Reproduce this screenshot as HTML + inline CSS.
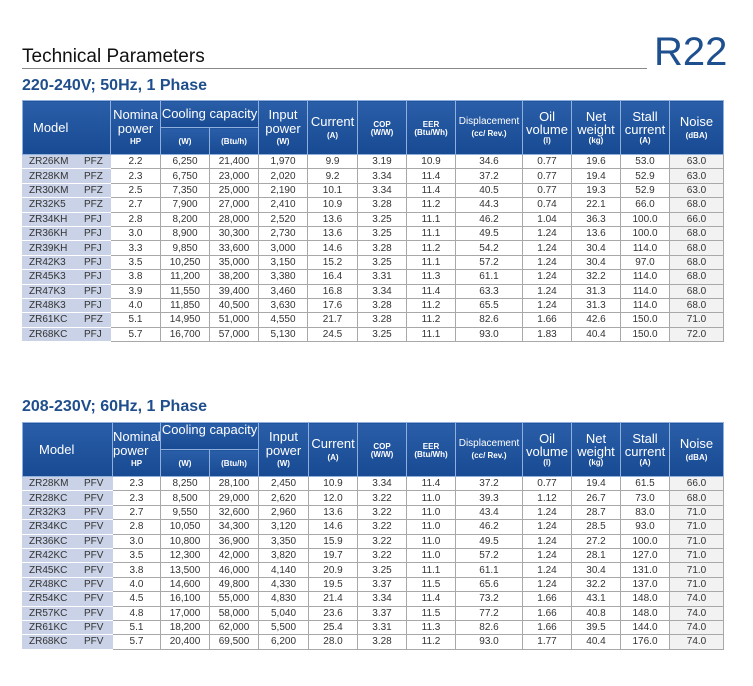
<!DOCTYPE html>
<html><head><meta charset="utf-8"><style>
body{margin:0;width:753px;height:686px;background:#fff;font-family:"Liberation Sans",sans-serif;position:relative;overflow:hidden}
.t{position:absolute;left:22px;font-size:19px;color:#111}
.hr{position:absolute;left:22px;top:68px;width:625px;height:1px;background:#888}
.r22{position:absolute;left:654px;top:30px;font-size:40px;color:#1e4f8f}
.sub{position:absolute;left:22px;font-size:16px;font-weight:bold;color:#1f4e8c}
table{position:absolute;left:22px;border-collapse:collapse;table-layout:fixed;width:701px}
th{background:linear-gradient(#2a5ea8,#174a92);color:#fff;border:1px solid #8fb0dc;font-weight:normal;padding:0;line-height:1.05;vertical-align:middle}
th .u{font-size:8px;font-weight:bold;display:block;margin-top:3px}
th.big{font-size:13px}
td{border:1px solid #a8a8a8;font-size:10px;color:#333;text-align:center;padding:0;background:#fff;line-height:11px}
td.m{background:#c9d2e6;text-align:left;border-color:#fff #c9d2e6 #fff #c9d2e6}
td.m span{display:inline-block;width:55px;padding-left:6px}
td:last-child{background:#f2f2f2}
.a tr.d{height:14.4px}
.b tr.d{height:14.4px}
</style></head><body>
<div class="t" style="top:46px">Technical Parameters</div>
<div class="hr"></div>
<div class="r22">R22</div>
<div class="sub" style="top:77px">220-240V; 50Hz, 1 Phase</div>
<div class="sub" style="top:398px">208-230V; 60Hz, 1 Phase</div>

<table class="a" style="top:100px">
<colgroup><col style="width:88px"><col style="width:50px"><col style="width:49px"><col style="width:49px"><col style="width:49px"><col style="width:50px"><col style="width:49px"><col style="width:49px"><col style="width:67px"><col style="width:49px"><col style="width:49px"><col style="width:49px"><col style="width:54px"></colgroup>
<tr style="height:27px"><th rowspan="2" class="big" style="text-align:left;padding-left:10px">Model</th><th rowspan="2" class="big">Nomina<br>power<span class="u">HP</span></th><th colspan="2" class="big">Cooling capacity</th><th rowspan="2" class="big">Input<br>power<span class="u">(W)</span></th><th rowspan="2" class="big">Current<span class="u">(A)</span></th><th rowspan="2"><span class="u">COP<br>(W/W)</span></th><th rowspan="2"><span class="u">EER<br>(Btu/Wh)</span></th><th rowspan="2" style="font-size:10px">Displacement<span class="u">(cc/ Rev.)</span></th><th rowspan="2" class="big">Oil<br>volume<span class="u" style="margin-top:0">(l)</span></th><th rowspan="2" class="big">Net<br>weight<span class="u" style="margin-top:0">(kg)</span></th><th rowspan="2" class="big">Stall<br>current<span class="u" style="margin-top:0">(A)</span></th><th rowspan="2" class="big">Noise<span class="u">(dBA)</span></th></tr>
<tr style="height:27px"><th><span class="u">(W)</span></th><th><span class="u">(Btu/h)</span></th></tr>
<tr class="d"><td class="m"><span>ZR26KM</span>PFZ</td><td>2.2</td><td>6,250</td><td>21,400</td><td>1,970</td><td>9.9</td><td>3.19</td><td>10.9</td><td>34.6</td><td>0.77</td><td>19.6</td><td>53.0</td><td>63.0</td></tr>
<tr class="d"><td class="m"><span>ZR28KM</span>PFZ</td><td>2.3</td><td>6,750</td><td>23,000</td><td>2,020</td><td>9.2</td><td>3.34</td><td>11.4</td><td>37.2</td><td>0.77</td><td>19.4</td><td>52.9</td><td>63.0</td></tr>
<tr class="d"><td class="m"><span>ZR30KM</span>PFZ</td><td>2.5</td><td>7,350</td><td>25,000</td><td>2,190</td><td>10.1</td><td>3.34</td><td>11.4</td><td>40.5</td><td>0.77</td><td>19.3</td><td>52.9</td><td>63.0</td></tr>
<tr class="d"><td class="m"><span>ZR32K5</span>PFZ</td><td>2.7</td><td>7,900</td><td>27,000</td><td>2,410</td><td>10.9</td><td>3.28</td><td>11.2</td><td>44.3</td><td>0.74</td><td>22.1</td><td>66.0</td><td>68.0</td></tr>
<tr class="d"><td class="m"><span>ZR34KH</span>PFJ</td><td>2.8</td><td>8,200</td><td>28,000</td><td>2,520</td><td>13.6</td><td>3.25</td><td>11.1</td><td>46.2</td><td>1.04</td><td>36.3</td><td>100.0</td><td>66.0</td></tr>
<tr class="d"><td class="m"><span>ZR36KH</span>PFJ</td><td>3.0</td><td>8,900</td><td>30,300</td><td>2,730</td><td>13.6</td><td>3.25</td><td>11.1</td><td>49.5</td><td>1.24</td><td>13.6</td><td>100.0</td><td>68.0</td></tr>
<tr class="d"><td class="m"><span>ZR39KH</span>PFJ</td><td>3.3</td><td>9,850</td><td>33,600</td><td>3,000</td><td>14.6</td><td>3.28</td><td>11.2</td><td>54.2</td><td>1.24</td><td>30.4</td><td>114.0</td><td>68.0</td></tr>
<tr class="d"><td class="m"><span>ZR42K3</span>PFJ</td><td>3.5</td><td>10,250</td><td>35,000</td><td>3,150</td><td>15.2</td><td>3.25</td><td>11.1</td><td>57.2</td><td>1.24</td><td>30.4</td><td>97.0</td><td>68.0</td></tr>
<tr class="d"><td class="m"><span>ZR45K3</span>PFJ</td><td>3.8</td><td>11,200</td><td>38,200</td><td>3,380</td><td>16.4</td><td>3.31</td><td>11.3</td><td>61.1</td><td>1.24</td><td>32.2</td><td>114.0</td><td>68.0</td></tr>
<tr class="d"><td class="m"><span>ZR47K3</span>PFJ</td><td>3.9</td><td>11,550</td><td>39,400</td><td>3,460</td><td>16.8</td><td>3.34</td><td>11.4</td><td>63.3</td><td>1.24</td><td>31.3</td><td>114.0</td><td>68.0</td></tr>
<tr class="d"><td class="m"><span>ZR48K3</span>PFJ</td><td>4.0</td><td>11,850</td><td>40,500</td><td>3,630</td><td>17.6</td><td>3.28</td><td>11.2</td><td>65.5</td><td>1.24</td><td>31.3</td><td>114.0</td><td>68.0</td></tr>
<tr class="d"><td class="m"><span>ZR61KC</span>PFZ</td><td>5.1</td><td>14,950</td><td>51,000</td><td>4,550</td><td>21.7</td><td>3.28</td><td>11.2</td><td>82.6</td><td>1.66</td><td>42.6</td><td>150.0</td><td>71.0</td></tr>
<tr class="d"><td class="m"><span>ZR68KC</span>PFJ</td><td>5.7</td><td>16,700</td><td>57,000</td><td>5,130</td><td>24.5</td><td>3.25</td><td>11.1</td><td>93.0</td><td>1.83</td><td>40.4</td><td>150.0</td><td>72.0</td></tr>
</table>

<table class="b" style="top:422px">
<colgroup><col style="width:90px"><col style="width:48px"><col style="width:49px"><col style="width:49px"><col style="width:50px"><col style="width:49px"><col style="width:49px"><col style="width:49px"><col style="width:67px"><col style="width:49px"><col style="width:49px"><col style="width:49px"><col style="width:54px"></colgroup>
<tr style="height:27px"><th rowspan="2" class="big" style="text-align:left;padding-left:16px">Model</th><th rowspan="2" class="big" style="text-align:left">Nominal<br>power<span class="u" style="text-align:center">HP</span></th><th colspan="2" class="big" style="vertical-align:top">Cooling capacity</th><th rowspan="2" class="big">Input<br>power<span class="u">(W)</span></th><th rowspan="2" class="big">Current<span class="u">(A)</span></th><th rowspan="2"><span class="u">COP<br>(W/W)</span></th><th rowspan="2"><span class="u">EER<br>(Btu/Wh)</span></th><th rowspan="2" style="font-size:10px">Displacement<span class="u">(cc/ Rev.)</span></th><th rowspan="2" class="big">Oil<br>volume<span class="u" style="margin-top:0">(l)</span></th><th rowspan="2" class="big">Net<br>weight<span class="u" style="margin-top:0">(kg)</span></th><th rowspan="2" class="big">Stall<br>current<span class="u" style="margin-top:0">(A)</span></th><th rowspan="2" class="big">Noise<span class="u">(dBA)</span></th></tr>
<tr style="height:27px"><th><span class="u">(W)</span></th><th><span class="u">(Btu/h)</span></th></tr>
<tr class="d"><td class="m"><span>ZR28KM</span>PFV</td><td>2.3</td><td>8,250</td><td>28,100</td><td>2,450</td><td>10.9</td><td>3.34</td><td>11.4</td><td>37.2</td><td>0.77</td><td>19.4</td><td>61.5</td><td>66.0</td></tr>
<tr class="d"><td class="m"><span>ZR28KC</span>PFV</td><td>2.3</td><td>8,500</td><td>29,000</td><td>2,620</td><td>12.0</td><td>3.22</td><td>11.0</td><td>39.3</td><td>1.12</td><td>26.7</td><td>73.0</td><td>68.0</td></tr>
<tr class="d"><td class="m"><span>ZR32K3</span>PFV</td><td>2.7</td><td>9,550</td><td>32,600</td><td>2,960</td><td>13.6</td><td>3.22</td><td>11.0</td><td>43.4</td><td>1.24</td><td>28.7</td><td>83.0</td><td>71.0</td></tr>
<tr class="d"><td class="m"><span>ZR34KC</span>PFV</td><td>2.8</td><td>10,050</td><td>34,300</td><td>3,120</td><td>14.6</td><td>3.22</td><td>11.0</td><td>46.2</td><td>1.24</td><td>28.5</td><td>93.0</td><td>71.0</td></tr>
<tr class="d"><td class="m"><span>ZR36KC</span>PFV</td><td>3.0</td><td>10,800</td><td>36,900</td><td>3,350</td><td>15.9</td><td>3.22</td><td>11.0</td><td>49.5</td><td>1.24</td><td>27.2</td><td>100.0</td><td>71.0</td></tr>
<tr class="d"><td class="m"><span>ZR42KC</span>PFV</td><td>3.5</td><td>12,300</td><td>42,000</td><td>3,820</td><td>19.7</td><td>3.22</td><td>11.0</td><td>57.2</td><td>1.24</td><td>28.1</td><td>127.0</td><td>71.0</td></tr>
<tr class="d"><td class="m"><span>ZR45KC</span>PFV</td><td>3.8</td><td>13,500</td><td>46,000</td><td>4,140</td><td>20.9</td><td>3.25</td><td>11.1</td><td>61.1</td><td>1.24</td><td>30.4</td><td>131.0</td><td>71.0</td></tr>
<tr class="d"><td class="m"><span>ZR48KC</span>PFV</td><td>4.0</td><td>14,600</td><td>49,800</td><td>4,330</td><td>19.5</td><td>3.37</td><td>11.5</td><td>65.6</td><td>1.24</td><td>32.2</td><td>137.0</td><td>71.0</td></tr>
<tr class="d"><td class="m"><span>ZR54KC</span>PFV</td><td>4.5</td><td>16,100</td><td>55,000</td><td>4,830</td><td>21.4</td><td>3.34</td><td>11.4</td><td>73.2</td><td>1.66</td><td>43.1</td><td>148.0</td><td>74.0</td></tr>
<tr class="d"><td class="m"><span>ZR57KC</span>PFV</td><td>4.8</td><td>17,000</td><td>58,000</td><td>5,040</td><td>23.6</td><td>3.37</td><td>11.5</td><td>77.2</td><td>1.66</td><td>40.8</td><td>148.0</td><td>74.0</td></tr>
<tr class="d"><td class="m"><span>ZR61KC</span>PFV</td><td>5.1</td><td>18,200</td><td>62,000</td><td>5,500</td><td>25.4</td><td>3.31</td><td>11.3</td><td>82.6</td><td>1.66</td><td>39.5</td><td>144.0</td><td>74.0</td></tr>
<tr class="d"><td class="m"><span>ZR68KC</span>PFV</td><td>5.7</td><td>20,400</td><td>69,500</td><td>6,200</td><td>28.0</td><td>3.28</td><td>11.2</td><td>93.0</td><td>1.77</td><td>40.4</td><td>176.0</td><td>74.0</td></tr>
</table>
</body></html>
